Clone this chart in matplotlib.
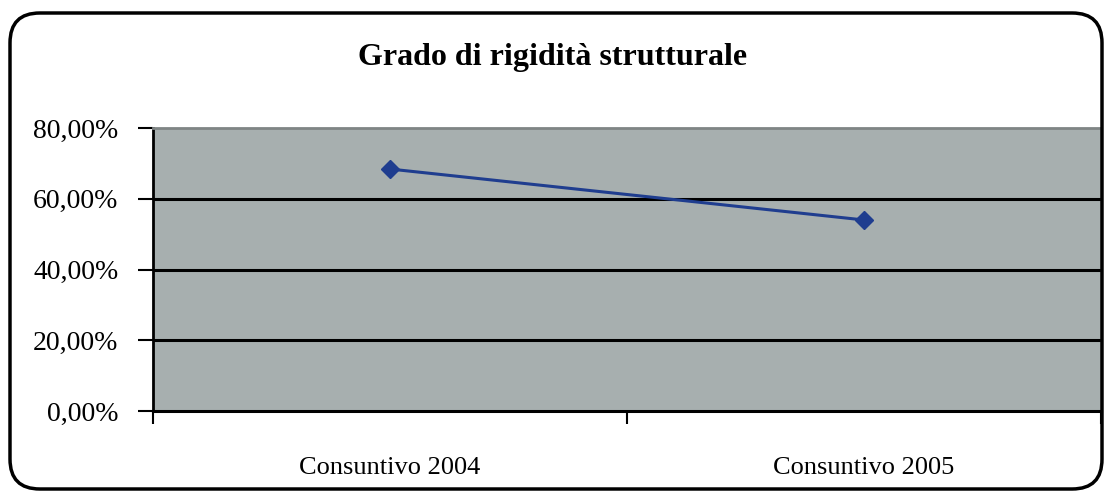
import matplotlib
matplotlib.use("Agg")
import matplotlib.pyplot as plt
from matplotlib.patches import FancyBboxPatch
from matplotlib.ticker import FuncFormatter

# data
categories = ['Consuntivo 2004', 'Consuntivo 2005']
values = [68.4, 54.0]
yticks = [0, 20, 40, 60, 80]

plt.rcParams['font.family'] = ['Liberation Serif', 'DejaVu Serif']

fig = plt.figure(figsize=(11.05, 4.93), dpi=100)
fig.patch.set_facecolor('white')

# rounded outer frame
frame = FancyBboxPatch((10 / 1105, 4 / 493), 1092 / 1105, 476 / 493,
                       boxstyle="round,pad=0,rounding_size=0.027",
                       transform=fig.transFigure, facecolor='none',
                       edgecolor='black', linewidth=2.5, mutation_aspect=1105 / 493)
fig.patches.append(frame)

ax = fig.add_axes([153 / 1105, 1 - 411 / 493, 948 / 1105, 283 / 493])
ax.set_facecolor('#a7afaf')

x = [i + 0.5 for i in range(len(categories))]
ax.plot(x, values, color='#1f3d8f', linewidth=2.2, marker='D', markersize=9,
        markerfacecolor='#1f3d8f', markeredgecolor='#1f3d8f', zorder=5)

ax.set_xlim(0, len(categories))
ax.set_ylim(0, 80)
ax.set_yticks(yticks)
ax.yaxis.set_major_formatter(FuncFormatter(lambda v, p: f"{v:.2f}%".replace('.', ',')))
for v in yticks[1:-1]:
    ax.axhline(v, color='black', linewidth=2.2, zorder=2)

ax.set_xticks(range(len(categories) + 1))
ax.set_xticklabels([])
ax.set_xticks(x, minor=True)
ax.set_xticklabels(categories, minor=True)
ax.tick_params(axis='x', which='major', length=9, width=1.5, direction='out', color='black')
ax.tick_params(axis='x', which='minor', length=0, pad=33, labelsize=19)
ax.tick_params(axis='y', length=11, width=1.5, direction='out', pad=14, labelsize=20)

ax.spines['left'].set_linewidth(2)
ax.spines['bottom'].set_linewidth(2.2)
ax.spines['top'].set_color('#7f8585')
ax.spines['top'].set_linewidth(2)
ax.spines['right'].set_color('#7f8585')
ax.spines['right'].set_linewidth(1)

fig.text(0.5, 1 - 57 / 493, 'Grado di rigidità strutturale', ha='center', va='center',
         fontsize=23, fontweight='bold')

fig.savefig('out.png', dpi=100)
